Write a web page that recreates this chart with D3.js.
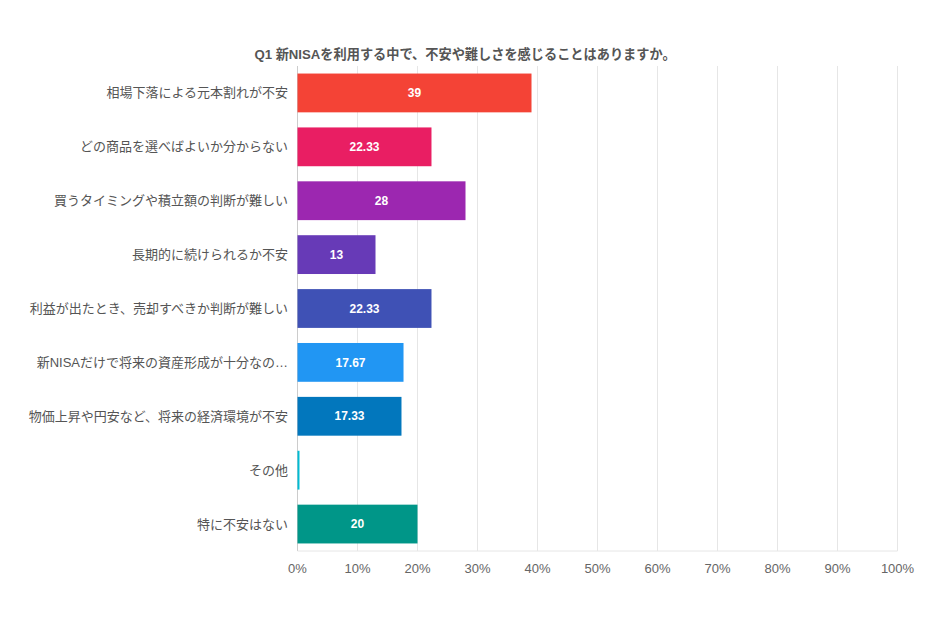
<!DOCTYPE html>
<html>
<head>
<meta charset="utf-8">
<script src="https://cdn.jsdelivr.net/npm/d3@7"></script>
<style>
  body { margin: 0; background: #fff; }
  svg text { font-family: Arial, "Liberation Sans", "Noto Sans CJK JP", sans-serif; }
</style>
</head>
<body>
<div id="chart"></div>
<script>
// chart data
const title = 'Q1 新NISAを利用する中で、不安や難しさを感じることはありますか。';
const categories = [
  '相場下落による元本割れが不安',
  'どの商品を選べばよいか分からない',
  '買うタイミングや積立額の判断が難しい',
  '長期的に続けられるか不安',
  '利益が出たとき、売却すべきか判断が難しい',
  '新NISAだけで将来の資産形成が十分なの…',
  '物価上昇や円安など、将来の経済環境が不安',
  'その他',
  '特に不安はない'
];
const values = [39, 22.33, 28, 13, 22.33, 17.67, 17.33, 0.33, 20];
const valueLabels = ['39', '22.33', '28', '13', '22.33', '17.67', '17.33', '', '20'];
const barColors = ['#f44336', '#e91e63', '#9c27b0', '#673ab7', '#3f51b5', '#2196f3', '#0277bd', '#00bcd4', '#009688'];
const tickValues = [0, 10, 20, 30, 40, 50, 60, 70, 80, 90, 100];

const width = 940, height = 627;
const svg = d3.select('#chart').append('svg')
    .attr('width', width)
    .attr('height', height);

const x = d3.scaleLinear().domain([0, 100]).range([297.5, 897.5]);
const y = d3.scaleBand().domain(categories).range([66, 551])
    .paddingInner(0.28).paddingOuter(0.14);

// title
svg.append('text')
    .attr('x', 465).attr('y', 59)
    .attr('text-anchor', 'middle')
    .attr('font-size', 13.2).attr('font-weight', 'bold')
    .attr('fill', '#555')
    .text(title);

// gridlines
svg.append('g').selectAll('line').data(tickValues).enter()
    .append('line')
        .attr('x1', d => x(d)).attr('x2', d => x(d))
        .attr('y1', 66).attr('y2', 551)
        .attr('stroke', d => d === 0 ? '#ccc' : '#e6e6e6')
        .attr('stroke-width', 1);

// bottom axis line
svg.append('line')
    .attr('x1', x(0)).attr('x2', x(100))
    .attr('y1', 551).attr('y2', 551)
    .attr('stroke', '#e6e6e6');

// x tick labels
svg.append('g').selectAll('text').data(tickValues).enter()
    .append('text')
        .attr('x', d => x(d)).attr('y', 573)
        .attr('text-anchor', 'middle')
        .attr('font-size', 13).attr('fill', '#666')
        .text(d => d + '%');

// category labels
svg.append('g').selectAll('text').data(categories).enter()
    .append('text')
        .attr('x', 288)
        .attr('y', d => y(d) + y.bandwidth() / 2)
        .attr('dy', '0.35em')
        .attr('text-anchor', 'end')
        .attr('font-size', 13).attr('fill', '#555')
        .text(d => d);

// bars
svg.append('g').selectAll('rect').data(values).enter()
    .append('rect')
        .attr('x', x(0))
        .attr('y', (d, i) => y(categories[i]))
        .attr('width', d => x(d) - x(0))
        .attr('height', y.bandwidth())
        .attr('fill', (d, i) => barColors[i]);

// value labels in bars
svg.append('g').selectAll('text').data(values).enter()
    .append('text')
        .attr('x', d => (x(0) + x(d)) / 2)
        .attr('y', (d, i) => y(categories[i]) + y.bandwidth() / 2)
        .attr('dy', '0.35em')
        .attr('text-anchor', 'middle')
        .attr('font-size', 12).attr('font-weight', 'bold')
        .attr('fill', '#fff')
        .text((d, i) => valueLabels[i]);
</script>
</body>
</html>
